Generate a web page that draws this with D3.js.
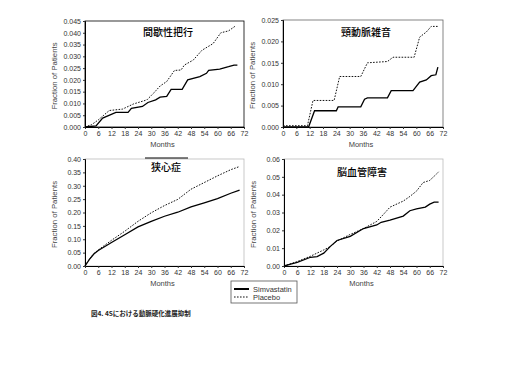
<!DOCTYPE html>
<html>
<head>
<meta charset="utf-8">
<script src="https://cdn.jsdelivr.net/npm/d3@7"></script>
<style>
  body { margin: 0; background: #fff; }
  svg { display: block; }
</style>
</head>
<body>
<div id="canvas"></div>
<script>
// months on the x axis
const monthTicks = [0, 6, 12, 18, 24, 30, 36, 42, 48, 54, 60, 66, 72];

// 間歇性把行
const claudSimva = [[0,0],[5,0.0005],[8,0.0038],[14,0.0062],[19.5,0.0062],[21,0.0079],[26,0.0087],[28.5,0.0104],[32,0.0115],[34,0.0127],[37,0.013],[39,0.016],[44,0.016],[46.5,0.020],[52,0.0214],[55,0.0228],[56,0.024],[61,0.0246],[65,0.0256],[67.5,0.0263],[69,0.0263]];
const claudPlac = [[0,0],[3,0.001],[6,0.003],[11,0.007],[17,0.0076],[22,0.0098],[28,0.0115],[31,0.0143],[34,0.0174],[37,0.0193],[40.5,0.024],[43.5,0.0242],[45,0.0263],[49,0.0284],[53,0.0326],[58,0.0354],[61.5,0.040],[65,0.0408],[68,0.0428]];

// 頸動脈雑音
const bruitSimva = [[0,0],[11.5,0],[14.2,0.0038],[24,0.0038],[24.8,0.0047],[35,0.0047],[36.7,0.0065],[38,0.0068],[47,0.0068],[48.7,0.0085],[58.5,0.0085],[61.5,0.0105],[64.5,0.011],[66.7,0.012],[68.8,0.0122],[69.7,0.014]];
const bruitPlac = [[0,0.0003],[11,0.0003],[13.5,0.0062],[23,0.0062],[25.5,0.0118],[35,0.0118],[38,0.015],[47,0.0153],[49.5,0.0163],[59,0.0163],[61.5,0.021],[64.5,0.0222],[66.7,0.0235],[69.7,0.0235]];

// 狭心症
const anginaSimva = [[0,0],[2,0.025],[4,0.045],[6,0.058],[12,0.088],[18,0.117],[24,0.146],[30,0.167],[36,0.186],[42,0.201],[48,0.221],[54,0.236],[60,0.252],[66,0.272],[70,0.284]];
const anginaPlac = [[0,0],[2,0.026],[4,0.046],[6,0.060],[12,0.096],[18,0.130],[24,0.167],[30,0.199],[36,0.226],[42,0.249],[48,0.287],[54,0.312],[60,0.337],[66,0.360],[70,0.372]];

// 脳血管障害
const cvSimva = [[0,0],[3,0.001],[6,0.002],[12,0.0049],[15,0.0053],[18,0.0072],[21,0.011],[24,0.0143],[30,0.0166],[36,0.021],[42,0.023],[44,0.0245],[48,0.0257],[54,0.028],[57,0.031],[60,0.032],[64,0.033],[66,0.0347],[68,0.0358],[70,0.0358]];
const cvPlac = [[0,0],[6,0.0025],[12,0.0055],[18,0.009],[21,0.011],[24,0.014],[30,0.0177],[36,0.021],[42,0.025],[45,0.0289],[48,0.033],[54,0.0364],[57,0.039],[60,0.042],[63,0.0468],[66,0.048],[69,0.0515],[70,0.0528]];

const panels = [
  { title: "間歇性把行", yMax: 0.045, yStep: 0.005, yFmt: ".3f", simva: claudSimva, plac: claudPlac,
    x0: 85, x1: 244, y0: 21, y1: 127, titleX: 168, titleY: 36, box: "#000" },
  { title: "頸動脈雑音", yMax: 0.025, yStep: 0.005, yFmt: ".3f", simva: bruitSimva, plac: bruitPlac,
    x0: 283, x1: 443, y0: 20, y1: 127, titleX: 366, titleY: 36, box: "#666" },
  { title: "狭心症", yMax: 0.40, yStep: 0.05, yFmt: ".2f", simva: anginaSimva, plac: anginaPlac,
    x0: 85, x1: 244, y0: 159, y1: 266, titleX: 166, titleY: 171, box: "#bbb", bar: true },
  { title: "脳血管障害", yMax: 0.06, yStep: 0.01, yFmt: ".2f", simva: cvSimva, plac: cvPlac,
    x0: 284, x1: 443, y0: 159, y1: 266, titleX: 362, titleY: 176, box: "#bbb" }
];

const svg = d3.select("#canvas").append("svg")
  .attr("width", 512).attr("height", 384);

const tickFont = "Liberation Sans, Arial, sans-serif";

panels.forEach(p => {
  let x = d3.scaleLinear().domain([0, 72]).range([p.x0, p.x1]);
  let y = d3.scaleLinear().domain([0, p.yMax]).range([p.y1, p.y0]);
  let g = svg.append("g");

  // frame
  g.append("rect")
    .attr("x", p.x0).attr("y", p.y0)
    .attr("width", p.x1 - p.x0).attr("height", p.y1 - p.y0)
    .attr("fill", "none").attr("stroke", p.box).attr("stroke-width", 0.8);

  let yTicks = d3.range(0, p.yMax + p.yStep / 2, p.yStep);
  let yAxis = g.append("g")
    .attr("transform", "translate(" + p.x0 + ",0)")
    .call(d3.axisLeft(y).tickValues(yTicks).tickFormat(d3.format(p.yFmt)).tickSize(2).tickPadding(2));
  let xAxis = g.append("g")
    .attr("transform", "translate(0," + p.y1 + ")")
    .call(d3.axisBottom(x).tickValues(monthTicks).tickFormat(d3.format("d")).tickSize(2).tickPadding(2));

  [yAxis, xAxis].forEach(a => {
    a.select(".domain").attr("stroke", "#000").attr("stroke-width", 1);
    a.selectAll(".tick line").attr("stroke", "#333");
    a.selectAll("text").attr("font-family", tickFont).attr("font-size", 7).attr("fill", "#333");
  });

  // axis titles
  g.append("text")
    .attr("transform", "translate(" + (p.x0 - 28) + "," + ((p.y0 + p.y1) / 2 + 2) + ") rotate(-90)")
    .attr("text-anchor", "middle")
    .attr("font-family", tickFont).attr("font-size", 7.8).attr("fill", "#444")
    .text("Fraction of Patients");
  g.append("text")
    .attr("x", (p.x0 + p.x1) / 2 - 2).attr("y", p.y1 + 20)
    .attr("text-anchor", "middle")
    .attr("font-family", tickFont).attr("font-size", 7.5).attr("fill", "#444")
    .text("Months");

  // panel title
  g.append("text")
    .attr("x", p.titleX).attr("y", p.titleY)
    .attr("text-anchor", "middle")
    .attr("font-family", "Noto Sans CJK JP, sans-serif").attr("font-size", 10).attr("font-weight", 500)
    .text(p.title);
  if (p.bar) {
    g.append("line")
      .attr("x1", p.titleX - 21).attr("x2", p.titleX + 22)
      .attr("y1", p.y0 - 1).attr("y2", p.y0 - 1)
      .attr("stroke", "#000").attr("stroke-width", 1);
  }

  let line = d3.line().x(d => x(d[0])).y(d => y(d[1]));
  g.append("path").datum(p.plac)
    .attr("fill", "none").attr("stroke", "#111").attr("stroke-width", 1)
    .attr("stroke-dasharray", "1.6,1.4")
    .attr("d", line);
  g.append("path").datum(p.simva)
    .attr("fill", "none").attr("stroke", "#000").attr("stroke-width", 1.3)
    .attr("d", line);
});

// legend
let legend = svg.append("g").attr("transform", "translate(231,281)");
legend.append("rect")
  .attr("width", 66).attr("height", 22)
  .attr("fill", "#fff").attr("stroke", "#555").attr("stroke-width", 0.8);
legend.append("line").attr("x1", 3).attr("x2", 18).attr("y1", 8).attr("y2", 8)
  .attr("stroke", "#000").attr("stroke-width", 2);
legend.append("line").attr("x1", 3).attr("x2", 18).attr("y1", 16).attr("y2", 16)
  .attr("stroke", "#111").attr("stroke-width", 1).attr("stroke-dasharray", "1.6,1.4");
legend.append("text").attr("x", 22).attr("y", 10.5)
  .attr("font-family", tickFont).attr("font-size", 7.5).attr("fill", "#333").text("Simvastatin");
legend.append("text").attr("x", 22).attr("y", 18.5)
  .attr("font-family", tickFont).attr("font-size", 7.5).attr("fill", "#333").text("Placebo");

// caption
svg.append("text")
  .attr("x", 91).attr("y", 316)
  .attr("font-family", "Noto Sans CJK JP, sans-serif").attr("font-size", 6.5).attr("font-weight", "bold")
  .attr("fill", "#222")
  .text("図4. 4Sにおける動脈硬化進展抑制");
</script>
</body>
</html>
